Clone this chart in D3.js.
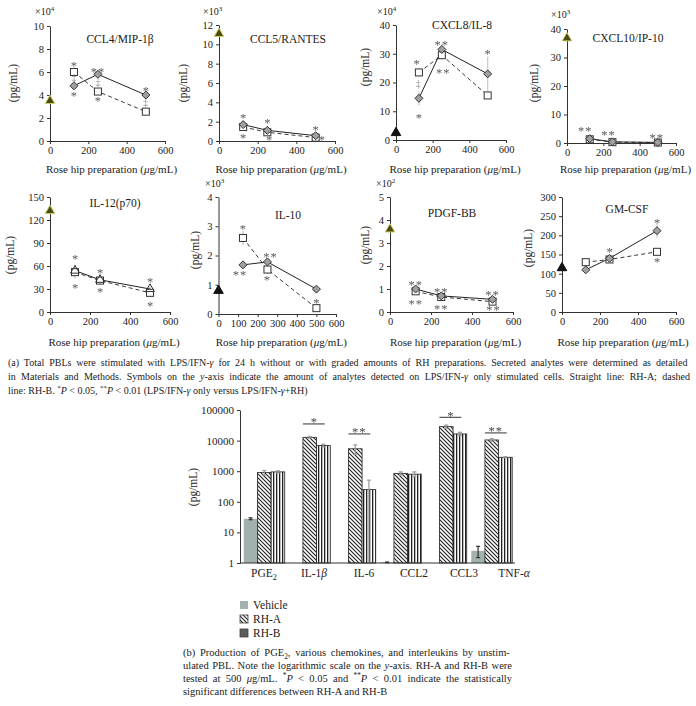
<!DOCTYPE html>
<html><head><meta charset="utf-8">
<script src="https://cdn.jsdelivr.net/npm/d3@7"></script>
<style>
body{margin:0;background:#fff}
svg{display:block}
.marks{filter:grayscale(1)}
</style>
</head><body><svg id="c" width="696" height="706"></svg>
<script>
// ---------------- DATA ----------------
const doses = [125, 250, 500];
const panelTitles = ["CCL4/MIP-1β","CCL5/RANTES","CXCL8/IL-8","CXCL10/IP-10","IL-12(p70)","IL-10","PDGF-BB","GM-CSF"];
const panelExponent = [4, 3, 4, 3, null, 3, 2, null];
const yMax  = [10, 12, 40, 40, 150, 4, 5, 300];
const yStep = [2, 2, 10, 10, 30, 1, 1, 50];
const xStep = [200, 200, 200, 200, 200, 100, 200, 200];
const controlValues = [3.5, 11.1, 2.5, 36.8, 132, 0.8, 3.6, 115];
const rhA = [[4.8,5.8,4.0],[1.7,1.1,0.55],[14.5,31.5,23],[1.5,0.4,0.2],[54,42,30],[1.68,1.78,0.85],[1.0,0.7,0.55],[110,140,212]];
const rhB = [[6.0,4.3,2.55],[1.45,0.9,0.35],[23.5,29.5,15.5],[1.3,0.3,0.15],[52,41,25],[2.6,1.52,0.2],[0.9,0.65,0.45],[130,137,157]];
const errA = [[0.3,0.3,0.2],[0.2,0.1,0.1],[2.5,2,6],[0.3,0.1,0.1],[8,6,4],[0.05,0.05,0.05],[0.1,0.05,0.05],[5,8,18]];
const errB = [[0.4,0.3,0.2],[0.2,0.1,0.1],[1.5,1.5,1],[0.3,0.1,0.1],[8,6,5],[0.25,0.15,0.05],[0.1,0.05,0.05],[5,5,8]];
// significance marks: [dose, value, symbol]
const panelMarks = [
  [[125,6.78,"*"],[125,5.48,"‡"],[125,4.2,"*"],[250,6.3,"**"],[250,5.07,"‡"],[250,3.71,"*"],[500,4.58,"*"],[500,3.33,"‡"]],
  [[125,2.7,"*"],[125,0.62,"*"],[250,2.17,"*"],[259,0.45,"*"],[500,1.42,"*"],[532,0.45,"*"]],
  [[113,27.6,"*"],[122,19.7,"‡"],[125,8.7,"*"],[249,34.2,"**"],[258,24.3,"**"],[500,31,"*"]],
  [[101,5.1,"**"],[229,3.9,"**"],[494,2.9,"**"]],
  [[125,72.6,"*"],[125,34.8,"*"],[250,55.3,"*"],[250,30.5,"*"],[500,43.5,"*"],[500,11.7,"*"]],
  [[125,3.01,"*"],[110,1.42,"**"],[265,2.05,"**"],[247,1.26,"*"],[500,0.48,"*"]],
  [[125,1.31,"**"],[125,0.48,"**"],[250,0.98,"**"],[250,0.26,"**"],[500,0.85,"**"],[505,0.22,"**"]],
  [[250,164,"*"],[500,239,"*"],[500,137.5,"*"]]
];
// bottom chart
const bCats = ["PGE2","IL-1β","IL-6","CCL2","CCL3","TNF-α"];
const bSeries = ["Vehicle","RH-A","RH-B"];
const bVehicle = [28, null, null, 1.05, null, 2.5];
const bRHA = [900, 12800, 5400, 850, 28600, 10500];
const bRHB = [950, 6900, 250, 800, 16500, 2850];
const bVehicleErr = [2, null, null, 0.03, null, 1];
const bRHAErr = [150, 800, 1800, 100, 3500, 1000];
const bRHBErr = [80, 700, 260, 150, 2200, 120];
const bSig = [null, "*", "**", null, "*", "**"];
const bSigValue = [null, 35000, 16500, null, 57700, 17800];
const bTicks = [1, 10, 100, 1000, 10000, 100000];

// ---------------- LAYOUT / STYLE ----------------
const FONT = '"Liberation Serif","DejaVu Serif","Times New Roman",serif';
const panelLayout = [
  {x0:50,  x1:165, top:26,  bottom:141, tx:120, ty:39,  lx:13,  ly:83,  ex:35,  ey:15},
  {x0:219, x1:335, top:25,  bottom:141, tx:288, ty:39,  lx:183, ly:83,  ex:203, ey:15},
  {x0:396, x1:506, top:25,  bottom:140, tx:462, ty:25,  lx:365, ly:67,  ex:377, ey:15},
  {x0:567, x1:676, top:29,  bottom:143, tx:628, ty:38,  lx:534, ly:83,  ex:551, ey:18},
  {x0:50,  x1:170, top:197, bottom:312, tx:115, ty:203, lx:10,  ly:255},
  {x0:218.5,x1:336,top:197, bottom:314, tx:288, ty:215, lx:195, ly:250, ex:205, ey:187},
  {x0:390, x1:513, top:197, bottom:312, tx:452, ty:213, lx:365, ly:245, ex:376, ey:187},
  {x0:562, x1:676, top:197, bottom:312, tx:627, ty:209, lx:528, ly:248}
];
const controlDark = [false,false,true,false,false,true,false,true];
const markerA = ["diamond","diamond","diamond","diamond","triangle","diamond","diamond","diamond"];

const svg = d3.select("#c");
svg.append("rect").attr("width",696).attr("height",706).attr("fill","#fff");

function rich(t, segs, fs){
  let shift = 0;
  segs.forEach(s=>{
    const [txt, st] = typeof s === "string" ? [s, ""] : s;
    const ts = t.append("tspan").text(txt);
    const small = st.indexOf("sup")>=0 || st.indexOf("sub")>=0;
    const target = st.indexOf("sup")>=0 ? -0.38*fs : st.indexOf("sub")>=0 ? 0.28*fs : 0;
    if (target !== shift){ ts.attr("dy", target - shift); shift = target; }
    if (small) ts.attr("font-size", fs*0.7);
    if (st.split(" ").indexOf("i")>=0) ts.attr("font-style","italic");
  });
  return t;
}
function justify(t, width){
  const n = t.node();
  const w = n.getComputedTextLength();
  const sp = (n.textContent.match(/ /g)||[]).length;
  if (sp) t.attr("word-spacing", (width - w)/sp);
}
function styleAxis(g, fs){
  g.attr("font-family", FONT).attr("font-size", fs);
  g.selectAll("text").attr("fill","#222");
  g.selectAll("line").attr("stroke","#333");
  g.select(".domain").attr("stroke","#333");
}
const diamondPath = "M0,-4L4,0L0,4L-4,0Z";

// ---------------- PANELS ----------------
panelTitles.forEach((title, i)=>{
  const L = panelLayout[i];
  const x = d3.scaleLinear([0,600],[L.x0,L.x1]);
  const y = d3.scaleLinear([0,yMax[i]],[L.bottom,L.top]);
  const g = svg.append("g");

  const xa = g.append("g").attr("transform",`translate(0,${L.bottom})`)
    .call(d3.axisBottom(x).tickValues(d3.range(0,601,xStep[i])).tickFormat(d3.format("d")).tickSize(3).tickPadding(3).tickSizeOuter(0));
  styleAxis(xa, 10.5);
  const ya = g.append("g").attr("transform",`translate(${L.x0},0)`)
    .call(d3.axisLeft(y).tickValues(d3.range(0,yMax[i]+1e-9,yStep[i])).tickFormat(d3.format("d")).tickSize(3).tickPadding(3).tickSizeOuter(0));
  styleAxis(ya, 10.5);

  // error bars
  [[rhA[i],errA[i]],[rhB[i],errB[i]]].forEach(([vals,errs])=>{
    g.selectAll(null).data(vals).enter().append("line")
      .attr("x1",(d,j)=>x(doses[j])).attr("x2",(d,j)=>x(doses[j]))
      .attr("y1",(d,j)=>y(d-errs[j])).attr("y2",(d,j)=>y(d+errs[j]))
      .attr("stroke","#c8c8c8").attr("stroke-width",1.2);
  });
  const line = d3.line().x((d,j)=>x(doses[j])).y(d=>y(d));
  g.append("path").attr("d",line(rhB[i])).attr("fill","none").attr("stroke","#222").attr("stroke-width",0.9).attr("stroke-dasharray","4,3");
  g.append("path").attr("d",line(rhA[i])).attr("fill","none").attr("stroke","#222").attr("stroke-width",1);

  // markers RH-B squares
  g.selectAll(null).data(rhB[i]).enter().append("rect")
    .attr("x",(d,j)=>x(doses[j])-3.5).attr("y",d=>y(d)-3.5).attr("width",7).attr("height",7)
    .attr("fill","#fff").attr("stroke","#333").attr("stroke-width",1);
  // markers RH-A
  g.selectAll(null).data(rhA[i]).enter().append("path")
    .attr("d", markerA[i]==="triangle" ? d3.symbol(d3.symbolTriangle, 34)() : diamondPath)
    .attr("transform",(d,j)=>`translate(${x(doses[j])},${y(d)})`)
    .attr("fill", markerA[i]==="triangle" ? "none" : "#a0a0a0").attr("stroke","#333").attr("stroke-width",1);

  // control triangle
  g.append("path").attr("d", d3.symbol(d3.symbolTriangle, 40)())
    .attr("transform",`translate(${x(0)},${y(controlValues[i])})`)
    .attr("fill", controlDark[i] ? "#111" : "#4a4a12")
    .attr("stroke", controlDark[i] ? "#111" : "#cfcf6a").attr("stroke-width",1);

  // significance marks
  g.append("g").attr("class","marks").selectAll(null).data(panelMarks[i]).enter().append("text")
    .attr("x",d=>x(d[0])).attr("y",d=>y(d[1]) + (d[2].indexOf("*")>=0 ? 7 : 3.5))
    .attr("text-anchor","middle").attr("font-family",FONT).attr("font-size",d=>d[2]==="‡"?10:12.5)
    .attr("letter-spacing",d=>d[2]==="**"?1:0)
    .attr("fill", d=>d[2]==="‡" ? "#888" : "#5a5a5a").text(d=>d[2]);

  // title
  g.append("text").attr("x",L.tx).attr("y",L.ty+4).attr("text-anchor","middle")
    .attr("font-family",FONT).attr("font-size",11.5).attr("fill","#222").text(title);
  // y label
  g.append("text").attr("transform",`translate(${L.lx},${L.ly}) rotate(-90)`).attr("text-anchor","middle")
    .attr("dy","0.35em").attr("font-family",FONT).attr("font-size",11.5).attr("fill","#222").text("(pg/mL)");
  // exponent
  if (panelExponent[i] !== null){
    const t = g.append("text").attr("x",L.ex).attr("y",L.ey).attr("font-family",FONT).attr("font-size",10).attr("fill","#222");
    rich(t, ["×10", [String(panelExponent[i]), "sup"]], 10);
  }
  // x title
  const xt = g.append("text").attr("x",(L.x0+L.x1)/2+4).attr("y", i<4 ? 173 : 346)
    .attr("text-anchor","middle").attr("font-family",FONT).attr("font-size",11).attr("fill","#222");
  rich(xt, ["Rose hip preparation (", ["μ","i"], "g/mL)"], 11);
});

// ---------------- CAPTION (a) ----------------
const capA = [
  ["(a)  Total PBLs were stimulated with LPS/IFN-", ["γ","i"], " for 24 h without or with graded amounts of RH preparations. Secreted analytes were determined as detailed"],
  ["in Materials and Methods. Symbols on the ", ["y","i"], "-axis indicate the amount of analytes detected on LPS/IFN-", ["γ","i"], " only stimulated cells. Straight line: RH-A; dashed"],
  ["line: RH-B. ", ["*","sup"], ["P","i"], " < 0.05, ", ["**","sup"], ["P","i"], " < 0.01 (LPS/IFN-", ["γ","i"], " only versus LPS/IFN-", ["γ","i"], "+RH)"]
];
capA.forEach((segs,k)=>{
  const t = svg.append("text").attr("x",8).attr("y",366+k*14).attr("font-family",FONT).attr("font-size",10).attr("fill","#222");
  rich(t, segs, 10);
  if (k<2) justify(t, 682);
});

// ---------------- BOTTOM CHART ----------------
const yL = d3.scaleLog([1,100000],[563,410]);
const xB = d3.scaleBand(bCats,[241.5,514.5]).paddingInner(0.1).paddingOuter(0.05);
const xLab = d3.scaleBand(bCats,[239,539]);
const xS = d3.scaleBand(bSeries,[0,xB.bandwidth()]);

const defs = svg.append("defs");
const pA = defs.append("pattern").attr("id","hatchA").attr("patternUnits","userSpaceOnUse").attr("width",4).attr("height",4);
pA.append("rect").attr("width",4).attr("height",4).attr("fill","#fff");
pA.append("path").attr("d","M-1,-1L5,5M-1,3L1,5M3,-1L5,1").attr("stroke","#222").attr("stroke-width",1.1);
const pB = defs.append("pattern").attr("id","hatchB").attr("patternUnits","userSpaceOnUse").attr("width",3).attr("height",3);
pB.append("rect").attr("width",3).attr("height",3).attr("fill","#fff");
pB.append("rect").attr("x",0).attr("width",1.3).attr("height",3).attr("fill","#222");

const fills = {"Vehicle":"#a3b1ae","RH-A":"url(#hatchA)","RH-B":"url(#hatchB)"};
const seriesVals = {"Vehicle":bVehicle,"RH-A":bRHA,"RH-B":bRHB};
const seriesErr = {"Vehicle":bVehicleErr,"RH-A":bRHAErr,"RH-B":bRHBErr};
const bg = svg.append("g");
bSeries.forEach(s=>{
  bCats.forEach((c,k)=>{
    const v = seriesVals[s][k];
    if (v===null) return;
    const bx = xB(c)+xS(s), bw = xS.bandwidth();
    bg.append("rect").attr("x",bx).attr("y",yL(v)).attr("width",bw).attr("height",yL(1)-yL(v))
      .attr("fill",fills[s]).attr("stroke", s==="Vehicle" ? "none" : "#222").attr("stroke-width",0.8);
    const e = seriesErr[s][k];
    if (e!==null){
      const col = s==="Vehicle" ? "#333" : "#999";
      const cx = bx+bw/2;
      bg.append("line").attr("x1",cx).attr("x2",cx).attr("y1",yL(Math.max(1,v-e))).attr("y2",yL(v+e)).attr("stroke",col).attr("stroke-width",1.2);
      bg.append("line").attr("x1",cx-2).attr("x2",cx+2).attr("y1",yL(v+e)).attr("y2",yL(v+e)).attr("stroke",col).attr("stroke-width",1.2);
      bg.append("line").attr("x1",cx-2).attr("x2",cx+2).attr("y1",yL(Math.max(1,v-e))).attr("y2",yL(Math.max(1,v-e))).attr("stroke",col).attr("stroke-width",1.2);
    }
  });
});
// significance
const sg = bg.append("g").attr("class","marks");
bCats.forEach((c,k)=>{
  if (!bSig[k]) return;
  const xa0 = xB(c)+xS("RH-A"), xa1 = xB(c)+xS("RH-B")+xS.bandwidth()*0.6;
  const yy = yL(bSigValue[k]);
  sg.append("line").attr("x1",xa0).attr("x2",xa1).attr("y1",yy).attr("y2",yy).attr("stroke","#333").attr("stroke-width",1);
  sg.append("text").attr("x",(xa0+xa1)/2).attr("y",yy+2.5).attr("text-anchor","middle").attr("font-family",FONT)
    .attr("font-size",12.5).attr("letter-spacing",bSig[k]==="**"?1:0).attr("fill","#444").text(bSig[k]);
});
const bya = bg.append("g").attr("transform","translate(240,0)")
  .call(d3.axisLeft(yL).tickValues(bTicks).tickFormat(d3.format("d")).tickSize(3).tickPadding(3).tickSizeOuter(0));
styleAxis(bya, 11);
bg.append("line").attr("x1",240).attr("x2",515).attr("y1",563).attr("y2",563).attr("stroke","#333");
bCats.forEach(c=>{
  const t = bg.append("text").attr("x",xLab(c)+xLab.bandwidth()/2).attr("y",577).attr("text-anchor","middle")
    .attr("font-family",FONT).attr("font-size",11.5).attr("fill","#222");
  if (c==="PGE2") rich(t, ["PGE", ["2","sub"]], 11.5);
  else if (c==="IL-1β") rich(t, ["IL-1", ["β","i"]], 11.5);
  else if (c==="TNF-α") rich(t, ["TNF-", ["α","i"]], 11.5);
  else t.text(c);
});
bg.append("text").attr("transform","translate(193,487) rotate(-90)").attr("text-anchor","middle").attr("dy","0.35em")
  .attr("font-family",FONT).attr("font-size",11.5).attr("fill","#222").text("(pg/mL)");

// legend
const legFill = {"Vehicle":"#a3b1ae","RH-A":"url(#hatchA)","RH-B":"#5c5c5c"};
bSeries.forEach((s,k)=>{
  const yy = 605 + k*14;
  bg.append("rect").attr("x",240).attr("y",yy-4).attr("width",8).attr("height",8).attr("fill",legFill[s])
    .attr("stroke", s==="Vehicle" ? "none" : "#444").attr("stroke-width",0.8);
  bg.append("text").attr("x",253).attr("y",yy+4).attr("font-family",FONT).attr("font-size",11.5).attr("fill","#222").text(s);
});

// caption (b)
const capB = [
  ["(b)  Production of PGE", ["2","sub"], ", various chemokines, and interleukins by unstim-"],
  ["ulated PBL. Note the logarithmic scale on the ", ["y","i"], "-axis. RH-A and RH-B were"],
  ["tested at 500 ", ["μ","i"], "g/mL. ", ["*","sup"], ["P","i"], " < 0.05 and ", ["**","sup"], ["P","i"], " < 0.01 indicate the statistically"],
  ["significant differences between RH-A and RH-B"]
];
capB.forEach((segs,k)=>{
  const t = svg.append("text").attr("x",183).attr("y",656+k*13).attr("font-family",FONT).attr("font-size",10.5).attr("fill","#222");
  rich(t, segs, 10.5);
  if (k<3) justify(t, 329);
});
</script>
</body></html>
